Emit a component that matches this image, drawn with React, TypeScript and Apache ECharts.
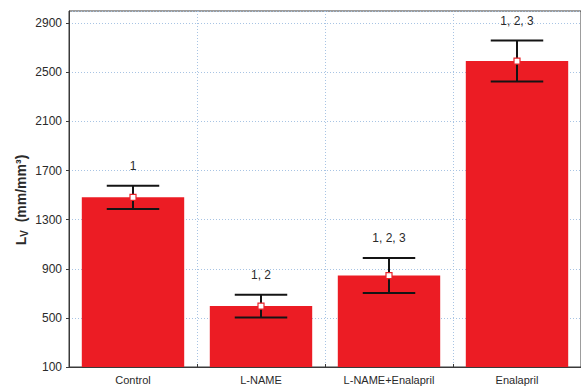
import React, { useEffect, useRef } from "react";
import * as echarts from "echarts";

// Groups and measured L_V values (mean ± error)
const categories = ["Control", "L-NAME", "L-NAME+Enalapril", "Enalapril"];
const means = [1482, 596, 845, 2592];
const errors = [94, 92, 142, 167];
const significance = ["1", "1, 2", "1, 2, 3", "1, 2, 3"];
const yTicks = [100, 500, 900, 1300, 1700, 2100, 2500, 2900];

const BAR_RED = "#ec1c24";
const GRID_BLUE = "#a8c4e4";
const FONT = "Liberation Sans, Arial, sans-serif";

export default function App() {
  const ref = useRef<HTMLDivElement>(null);

  useEffect(() => {
    if (!ref.current) return;
    const chart = echarts.init(ref.current, undefined, { renderer: "svg" });

    const errData = categories.map((_, i) => [i, means[i], errors[i]]);

    chart.setOption({
      animation: false,
      backgroundColor: "#ffffff",
      textStyle: { fontFamily: FONT },
      grid: {
        left: 69,
        top: 11,
        width: 513,
        height: 356,
        show: true,
        borderColor: "#3a3a3a",
        borderWidth: 1,
        backgroundColor: "transparent",
      },
      xAxis: {
        type: "category",
        data: categories,
        axisLine: { lineStyle: { color: "#3a3a3a", width: 1 } },
        axisTick: { show: true, inside: true, length: 3, lineStyle: { color: "#3a3a3a" } },
        axisLabel: { color: "#2a2a2a", fontSize: 11, margin: 7, fontFamily: FONT },
        splitLine: {
          show: true,
          lineStyle: { color: GRID_BLUE, type: [1, 2], width: 1 },
        },
      },
      yAxis: {
        type: "value",
        min: 100,
        max: 3000,
        interval: 400,
        axisLine: { show: true, lineStyle: { color: "#3a3a3a", width: 1 } },
        axisTick: { show: true, length: 3, lineStyle: { color: "#3a3a3a" } },
        axisLabel: {
          color: "#2a2a2a",
          fontSize: 12,
          margin: 7,
          fontFamily: FONT,
          showMaxLabel: false,
          formatter: (v: number) => (yTicks.includes(v) ? String(v) : ""),
        },
        splitLine: {
          show: true,
          lineStyle: { color: GRID_BLUE, type: [1, 2], width: 1 },
        },
      },
      graphic: [
        {
          type: "text",
          x: 21,
          y: 200,
          rotation: Math.PI / 2,
          style: {
            text: "{l|L}{s|V}{l|  (mm/mm³)}",
            align: "center",
            verticalAlign: "middle",
            rich: {
              l: { fontSize: 14, fontWeight: "bold", fill: "#2a2a2a", fontFamily: FONT },
              s: { fontSize: 10, fontWeight: "bold", fill: "#2a2a2a", fontFamily: FONT, verticalAlign: "bottom", padding: [6, 0, 0, 0] },
            },
          },
        },
      ],
      series: [
        {
          type: "bar",
          data: means,
          barCategoryGap: "20%",
          itemStyle: { color: BAR_RED },
          z: 2,
        },
        {
          type: "custom",
          data: errData,
          encode: { x: 0, y: 1 },
          z: 5,
          renderItem: (params: any, api: any) => {
            const i = api.value(0);
            const mean = api.value(1);
            const err = api.value(2);
            const top = api.coord([i, mean + err]);
            const bot = api.coord([i, mean - err]);
            const mid = api.coord([i, mean]);
            const half = api.size([1, 0])[0] * 0.205;
            const stroke = { stroke: "#141414", lineWidth: 2 };
            return {
              type: "group",
              children: [
                { type: "line", shape: { x1: top[0], y1: top[1], x2: bot[0], y2: bot[1] }, style: stroke },
                { type: "line", shape: { x1: top[0] - half, y1: top[1], x2: top[0] + half, y2: top[1] }, style: stroke },
                { type: "line", shape: { x1: bot[0] - half, y1: bot[1], x2: bot[0] + half, y2: bot[1] }, style: stroke },
                {
                  type: "rect",
                  shape: { x: mid[0] - 3, y: mid[1] - 3, width: 6, height: 6 },
                  style: { fill: "#ffffff", stroke: "#e8242a", lineWidth: 1.2 },
                },
                {
                  type: "text",
                  x: top[0],
                  y: top[1] - 14,
                  style: {
                    text: significance[params.dataIndex],
                    align: "center",
                    verticalAlign: "bottom",
                    fontSize: 12,
                    fontFamily: FONT,
                    fill: "#2a2a2a",
                  },
                },
              ],
            };
          },
        },
      ],
    });

    return () => chart.dispose();
  }, []);

  return (
    <div
      ref={ref}
      style={{ position: "absolute", left: 0, top: 0, width: 581, height: 387 }}
    />
  );
}
